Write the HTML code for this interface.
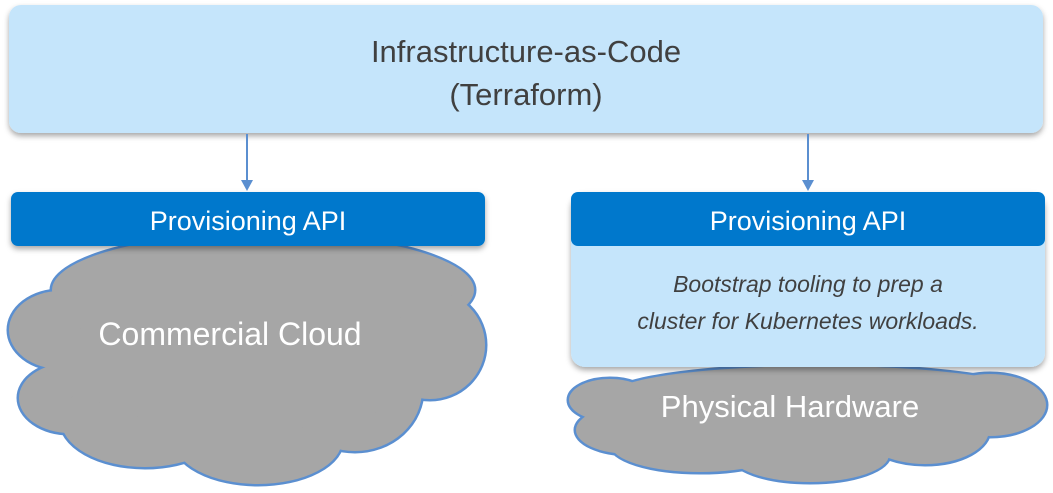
<!DOCTYPE html>
<html><head><meta charset="utf-8"><style>
body{margin:0;width:1053px;height:493px;background:#fff;overflow:hidden;position:relative;font-family:"Liberation Sans",sans-serif}
.abs{position:absolute;box-sizing:border-box}
</style></head><body>
<svg class="abs" style="left:0;top:0" width="1053" height="493">
<defs><filter id="sh" x="-5%" y="-20%" width="110%" height="150%"><feDropShadow dx="0" dy="3" stdDeviation="3" flood-color="#000" flood-opacity="0.35"/></filter></defs>
<g stroke="#5b8fd0" stroke-width="3" fill="#a6a6a6">
<ellipse cx="263" cy="290" rx="212" ry="58"/><ellipse cx="60" cy="330" rx="52" ry="40"/><ellipse cx="70" cy="398" rx="52" ry="36"/><ellipse cx="145" cy="420" rx="85" ry="48"/><ellipse cx="258" cy="440" rx="85" ry="45"/><ellipse cx="355" cy="390" rx="68" ry="62"/><ellipse cx="430" cy="345" rx="56" ry="55"/>
<ellipse cx="820" cy="395" rx="210" ry="30"/><ellipse cx="610" cy="400" rx="42" ry="22"/><ellipse cx="630" cy="430" rx="55" ry="25"/><ellipse cx="700" cy="445" rx="90" ry="28"/><ellipse cx="810" cy="455" rx="80" ry="28"/><ellipse cx="925" cy="430" rx="65" ry="35"/><ellipse cx="990" cy="405" rx="57" ry="32"/>
</g>
<g fill="#a6a6a6">
<ellipse cx="263" cy="290" rx="211" ry="57"/><ellipse cx="60" cy="330" rx="51" ry="39"/><ellipse cx="70" cy="398" rx="51" ry="35"/><ellipse cx="145" cy="420" rx="84" ry="47"/><ellipse cx="258" cy="440" rx="84" ry="44"/><ellipse cx="355" cy="390" rx="67" ry="61"/><ellipse cx="430" cy="345" rx="55" ry="54"/>
<ellipse cx="250" cy="360" rx="190" ry="70"/>
<ellipse cx="820" cy="395" rx="209" ry="29"/><ellipse cx="610" cy="400" rx="41" ry="21"/><ellipse cx="630" cy="430" rx="54" ry="24"/><ellipse cx="700" cy="445" rx="89" ry="27"/><ellipse cx="810" cy="455" rx="79" ry="27"/><ellipse cx="925" cy="430" rx="64" ry="34"/><ellipse cx="990" cy="405" rx="56" ry="31"/>
<ellipse cx="800" cy="420" rx="190" ry="32"/>
</g>
<rect x="9" y="5" width="1034" height="128" rx="12" fill="#c5e5fb" filter="url(#sh)"/>
<g stroke="#5b8fd0" stroke-width="2"><line x1="247" y1="134" x2="247" y2="182"/><line x1="808" y1="134" x2="808" y2="182"/></g>
<g fill="#5b8fd0"><polygon points="241,180 253,180 247,191"/><polygon points="802,180 814,180 808,191"/></g>
<rect x="11" y="192" width="474" height="54" rx="7" fill="#0078cc" filter="url(#sh)"/>
<rect x="571" y="192" width="474" height="175" rx="14" fill="#c5e5fb" filter="url(#sh)"/>
<rect x="571" y="192" width="474" height="54" rx="7" fill="#0078cc"/>
<g font-family="Liberation Sans, sans-serif" text-anchor="middle">
<text x="526" y="62" font-size="31" fill="#404040">Infrastructure-as-Code</text>
<text x="526" y="105" font-size="31" fill="#404040">(Terraform)</text>
<text x="248" y="230" font-size="27" fill="#fff">Provisioning API</text>
<text x="808" y="230" font-size="27" fill="#fff">Provisioning API</text>
<text x="808" y="292" font-size="23" font-style="italic" fill="#404040">Bootstrap tooling to prep a</text>
<text x="808" y="329" font-size="23" font-style="italic" fill="#404040">cluster for Kubernetes workloads.</text>
<text x="230" y="345" font-size="32" fill="#fff">Commercial Cloud</text>
<text x="790" y="417" font-size="31" fill="#fff">Physical Hardware</text>
</g>
</svg>
</body></html>
